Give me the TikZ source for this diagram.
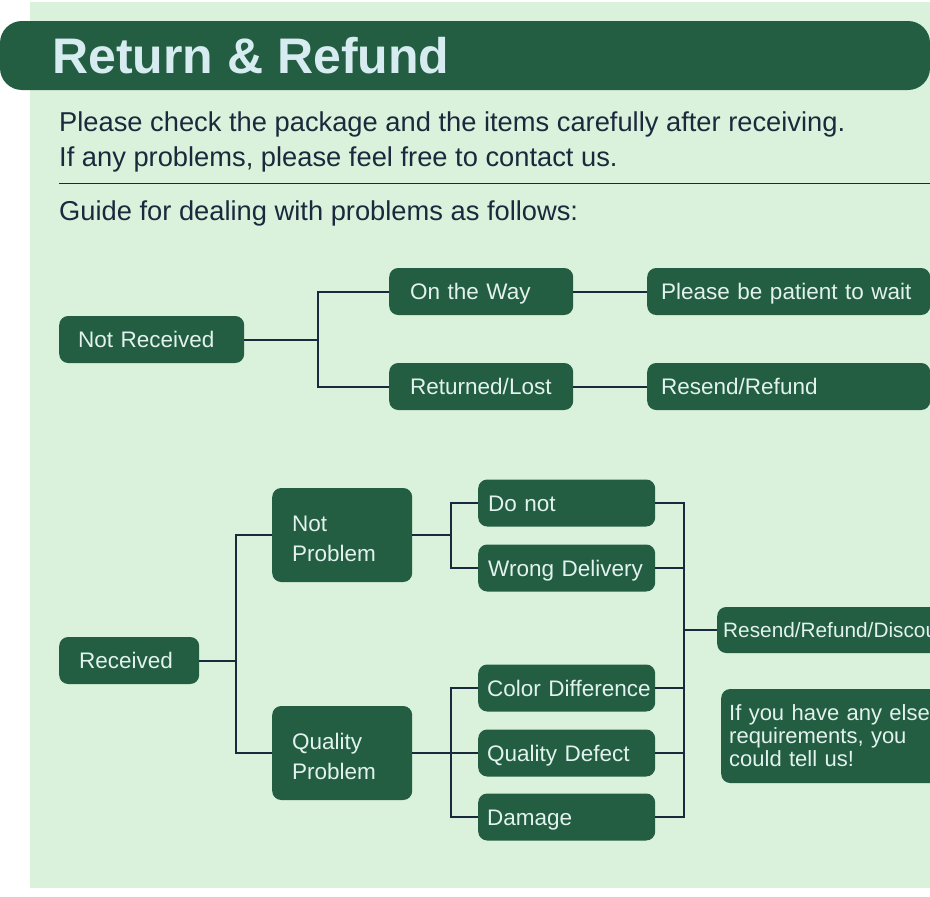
\documentclass[tikz,border=0pt]{standalone}
\usepackage{fontspec}
\setmainfont{Liberation Sans}
\hyphenpenalty=10000
\exhyphenpenalty=10000
\definecolor{bg}{RGB}{218,242,220}
\definecolor{dg}{RGB}{35,94,66}
\definecolor{ttl}{RGB}{214,236,240}
\definecolor{ink}{RGB}{27,41,60}
\definecolor{ntxt}{RGB}{226,242,238}
\tikzset{
  box/.style={fill=dg, rounded corners=9pt, text=ntxt, align=left, inner ysep=0pt,
    font=\fontsize{22.5}{30}\selectfont, anchor=west,
    text height=16pt, text depth=0pt},
  twoline/.style={text depth=24pt},
  conn/.style={draw=ink, line width=2pt},
  body/.style={anchor=base west, inner sep=0pt, text=ink, font=\fontsize{27.3}{33}\selectfont}
}
\begin{document}
\begin{tikzpicture}[x=1pt,y=-1pt]
\useasboundingbox (0,0) rectangle (930,897);
\clip (0,0) rectangle (930,897);
\fill[white] (0,0) rectangle (930,897);
\fill[bg] (30,2) rectangle (930,888);
% title bar
\fill[dg, rounded corners=22pt] (0,21) rectangle (930,90);
\node[anchor=base west, inner sep=0pt, text=ttl, font=\fontsize{50}{56}\selectfont\bfseries] (title) at (52,73.5) {Return \& Refund};
% intro text
\node[body] (l1) at (59,131) {Please check the package and the items carefully after receiving.};
\node[body] (l2) at (59,166) {If any problems, please feel free to contact us.};
\draw[ink, line width=1.2pt] (59,183.5) -- (930,183.5);
\node[body] (l3) at (59,220) {Guide for dealing with problems as follows:};

% upper tree
\node[box, inner xsep=19pt, text width=147pt, minimum height=47pt] (nr) at (59,339.5) {Not Received};
\node[box, inner xsep=21pt, text width=142pt, minimum height=47pt] (otw) at (389,291.5) {On the Way};
\node[box, inner xsep=21pt, text width=142pt, minimum height=47pt] (rl) at (389,386.5) {Returned/Lost};
\node[box, inner xsep=14pt, text width=255pt, minimum height=47pt] (wait) at (647,291.5) {Please be patient to wait};
\node[box, inner xsep=14pt, text width=255pt, minimum height=47pt] (rr) at (647,386.5) {Resend/Refund};
\coordinate (j1) at (318,339.5);
\draw[conn] (nr.east) -- (j1) |- (otw.west);
\draw[conn] (j1) |- (rl.west);
\draw[conn] (otw.east) -- (wait.west);
\draw[conn] (rl.east) -- (rr.west);

% lower tree
\node[box, inner xsep=20pt, text width=100pt, minimum height=47pt] (rec) at (59,660.5) {Received};
\node[box, twoline, inner xsep=20pt, text width=100pt, minimum height=94pt] (np) at (272,535) {Not\\Problem};
\node[box, twoline, inner xsep=20pt, text width=100pt, minimum height=94pt] (qp) at (272,753) {Quality\\Problem};
\node[box, inner xsep=10pt, text width=157pt, minimum height=47pt] (dn) at (478,503) {Do not};
\node[box, inner xsep=10pt, text width=157pt, minimum height=47pt] (wd) at (478,568) {Wrong~Delivery};
\node[box, inner xsep=9pt, text width=159pt, minimum height=47pt] (cd) at (478,688) {Color~Difference};
\node[box, inner xsep=9pt, text width=159pt, minimum height=47pt] (qd) at (478,753) {Quality Defect};
\node[box, inner xsep=9pt, text width=159pt, minimum height=47pt] (dm) at (478,817) {Damage};
\node[box, inner xsep=6pt, text width=230pt, minimum height=46pt, font=\fontsize{20.8}{24}\selectfont, text height=15pt] (rrd) at (717,630) {Resend/Refund/Discount};
\node[box, inner xsep=8pt, text width=226pt, minimum height=94pt, font=\fontsize{22}{23}\selectfont, text depth=48pt] (else) at (721,736) {If you have any else\\requirements, you\\could tell us!};

\coordinate (j2) at (236,660.5);
\draw[conn] (rec.east) -- (j2) |- (np.west);
\draw[conn] (j2) |- (qp.west);
\coordinate (j3) at (451,535);
\draw[conn] (np.east) -- (j3) |- (dn.west);
\draw[conn] (j3) |- (wd.west);
\coordinate (j4) at (451,753);
\draw[conn] (qp.east) -- (j4) |- (cd.west);
\draw[conn] (j4) |- (dm.west);
\draw[conn] (j4) -- (qd.west);
\coordinate (j5) at (684,630);
\draw[conn] (dn.east) -| (j5);
\draw[conn] (dm.east) -| (j5);
\draw[conn] (wd.east) -- (wd.east -| j5);
\draw[conn] (cd.east) -- (cd.east -| j5);
\draw[conn] (qd.east) -- (qd.east -| j5);
\draw[conn] (j5) -- (rrd.west);
\end{tikzpicture}
\end{document}
